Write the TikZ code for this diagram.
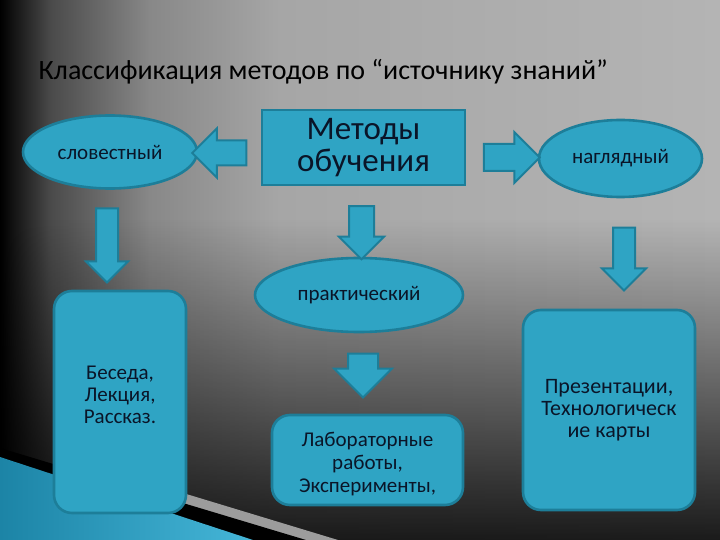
\documentclass[tikz,border=0pt]{standalone}
\usepackage{fontspec}
\setmainfont{Carlito}
\usetikzlibrary{shapes.geometric,shapes.arrows,fadings}
\definecolor{boxfill}{HTML}{2FA4C4}
\definecolor{boxline}{HTML}{1D7E99}
\definecolor{txt}{HTML}{0A1528}
\definecolor{bg1}{HTML}{4A4A4A}
\definecolor{bg2}{HTML}{888888}
\definecolor{bgA}{HTML}{A6A6A6}
\definecolor{bgB}{HTML}{B4B4B4}
\definecolor{bandgray}{HTML}{9C9C9C}
\definecolor{blueA}{HTML}{1C84A6}
\definecolor{blueB}{HTML}{45B6D8}
\pgfdeclarehorizontalshading{bgshade}{100bp}{color(0bp)=(black); color(25bp)=(black);
  color(28.5bp)=(bg1); color(35.4bp)=(bg2); color(44.4bp)=(bgA); color(75bp)=(bgB); color(100bp)=(bgB)}
\tikzfading[name=fadedown, top color=transparent!100, bottom color=transparent!0]
\begin{document}
\begin{tikzpicture}[x=1pt,y=-1pt,
  blk/.style={fill=boxfill,draw=boxline,line width=2.6pt,text=txt,align=center},
  oval/.style={blk,ellipse,inner sep=0pt},
  rbox/.style={blk,rounded corners=18pt,inner sep=0pt},
  barrow/.style={single arrow,fill=boxfill,draw=boxline,line width=2pt,
     inner xsep=0pt,single arrow tip angle=90},
  lbl/.style={text=txt,align=center,font=\fontsize{21}{22}\selectfont}]
\useasboundingbox (0,0) rectangle (720,540);
% background
\shade[shading=bgshade] (0,0) rectangle (720,540);
\fill[black,path fading=fadedown,fill opacity=0.85] (0,220) rectangle (720,540);
% bottom-left decoration
\fill[bandgray] (150,483) -- (338,540) -- (150,540) -- cycle;
\fill[black] (0,448) -- (306,540) -- (0,540) -- cycle;
\shade[left color=blueA,right color=blueB] (0,457) -- (253,540) -- (0,540) -- cycle;
% title
\node[anchor=west,font=\fontsize{28}{30}\selectfont,text=black] (title) at (35,72)
  {Классификация методов по “источнику знаний”};
% nodes
\node[blk,rectangle,minimum width=203pt,minimum height=75pt,inner sep=0pt,
  font=\fontsize{33}{32}\selectfont] (main) at (363.5,147.5) {Методы\\обучения};
\node[oval,minimum width=174pt,minimum height=73pt,font=\fontsize{21}{22}\selectfont]
  (verbal) at (110,152) {словестный};
\node[oval,minimum width=163pt,minimum height=77pt,font=\fontsize{21}{22}\selectfont]
  (visual) at (620.5,158.5) {наглядный};
\node[oval,minimum width=208pt,minimum height=74pt,font=\fontsize{21}{22}\selectfont]
  (pract) at (359,295) {практический};
\node[rbox,minimum width=132pt,minimum height=222pt] (vbox) at (120,402) {};
\node[lbl] (vtext) at (120,395) {Беседа,\\Лекция,\\Рассказ.};
\node[rbox,minimum width=191pt,minimum height=90pt] (pbox) at (367.5,460) {};
\node[lbl,font=\fontsize{21}{23}\selectfont] (ptext) at (367.5,464) {Лабораторные\\работы,\\Эксперименты,};
\node[rbox,minimum width=172pt,minimum height=200pt] (sbox) at (609,410) {};
\node[lbl,font=\fontsize{22}{22}\selectfont] (stext) at (609,410) {Презентации,\\Технологическ\\ие карты};
% block arrows
\node[barrow,rotate=180,minimum height=54pt,inner ysep=11.5pt,single arrow head extend=12pt]
  (a1) at (225.5,153) {};
\node[barrow,minimum height=56pt,inner ysep=12.5pt,single arrow head extend=12pt]
  (a2) at (505,157.5) {};
\node[barrow,rotate=-90,minimum height=74pt,inner ysep=10pt,single arrow head extend=10pt]
  (a3) at (107,240) {};
\node[barrow,rotate=-90,minimum height=53pt,inner ysep=11.5pt,single arrow head extend=10pt]
  (a4) at (361.5,226.5) {};
\node[barrow,rotate=-90,minimum height=63pt,inner ysep=10pt,single arrow head extend=11pt]
  (a5) at (624,253.5) {};
\node[barrow,rotate=-90,minimum height=44pt,inner ysep=14pt,single arrow head extend=14pt]
  (a6) at (363,368) {};
\end{tikzpicture}
\end{document}
